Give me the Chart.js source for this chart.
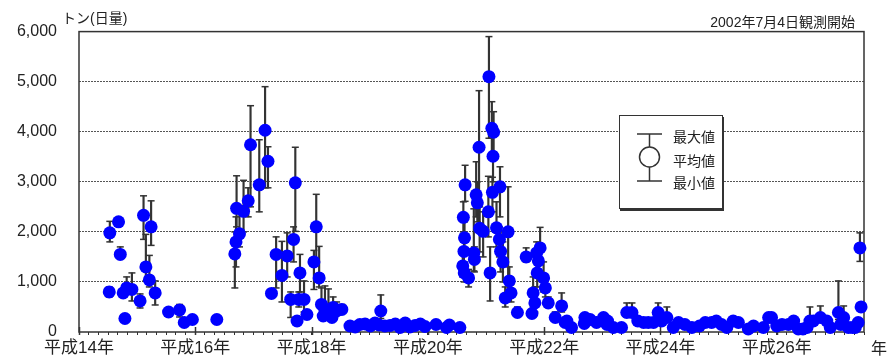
<!DOCTYPE html>
<html><head><meta charset="utf-8">
<script src="https://cdn.jsdelivr.net/npm/chart.js@4.4.0/dist/chart.umd.min.js"></script>
<style>
body{margin:0;background:#fff;}
#wrap{position:relative;width:895px;height:364px;overflow:hidden;font-family:"Liberation Sans","Noto Sans CJK JP",sans-serif;color:#222;}
canvas{position:absolute;left:0;top:0;}
.t{position:absolute;white-space:nowrap;line-height:1;}
#legend{position:absolute;left:619px;top:115px;width:102px;height:92px;border:1px solid #333;box-shadow:1px 2px 0 #333;background:#fff;}
#legend svg{position:absolute;left:0;top:0;}
</style></head><body>
<div id="wrap">
<canvas id="c" width="895" height="364"></canvas>
<div class="t" style="left:62px;top:11px;font-size:14px;">トン(日量)</div>
<div class="t" style="right:40px;top:15px;font-size:14px;">2002年7月4日観測開始</div>
<div class="t" style="left:871px;top:341px;font-size:16px;">年</div>
<div id="legend">
 <svg width="100" height="90" stroke="#333" stroke-width="1.5" fill="none">
  <line x1="17" y1="18" x2="42" y2="18"/>
  <line x1="29.5" y1="18" x2="29.5" y2="31"/>
  <circle cx="29.5" cy="41" r="10" fill="#fff"/>
  <line x1="29.5" y1="51" x2="29.5" y2="65"/>
  <line x1="17" y1="65" x2="42" y2="65"/>
 </svg>
 <div class="t" style="left:53px;top:14px;font-size:14px">最大値</div>
 <div class="t" style="left:53px;top:38px;font-size:14px">平均値</div>
 <div class="t" style="left:53px;top:60px;font-size:14px">最小値</div>
</div>
</div>
<script>
// ---- data (decimal year of observation, daily SO2 tons) ----
const dates = [
 2002.52,2002.53,2002.68,2002.71,2002.76,2002.79,2002.82,2002.91,2003.05,2003.11,2003.15,2003.21,2003.24,2003.31,2003.54,2003.73,2003.81,2003.95,2004.37,
 2004.68,2004.70,2004.71,2004.76,2004.83,2004.91,2004.95,2005.10,2005.20,2005.25,2005.31,2005.39,2005.49,2005.58,2005.64,2005.69,2005.72,2005.75,2005.78,2005.80,2005.87,2005.92,2006.04,2006.08,2006.13,2006.17,2006.20,2006.23,2006.29,2006.35,2006.37,2006.43,2006.52,
 2006.66,2006.75,2006.83,2006.92,2007.01,2007.09,2007.16,2007.19,2007.26,2007.35,2007.44,2007.52,2007.61,2007.69,2007.78,2007.87,2007.95,2008.14,2008.32,2008.37,2008.55,
 2008.60,2008.61,2008.62,2008.625,2008.63,2008.64,2008.70,2008.79,2008.80,2008.83,2008.85,2008.88,2008.89,2008.95,2009.04,2009.05,2009.07,2009.10,2009.11,2009.12,2009.13,2009.18,2009.23,2009.24,2009.25,2009.29,2009.33,2009.38,2009.40,2009.43,2009.54,2009.69,2009.79,2009.81,2009.84,2009.87,2009.88,2009.90,2009.93,2009.99,2010.02,2010.07,2010.19,2010.30,
 2010.36,2010.39,2010.47,2010.69,2010.70,2010.79,2010.90,2011.02,2011.08,2011.09,2011.19,2011.33,2011.42,2011.51,2011.61,2011.71,2011.79,2011.88,2011.96,2012.02,2012.11,2012.22,2012.31,2012.42,2012.54,2012.67,2012.77,2012.88,2012.96,2013.05,2013.14,2013.25,2013.34,2013.51,2013.60,2013.77,2013.86,2013.91,2014.00,2014.09,2014.20,2014.29,2014.37,2014.45,2014.52,2014.57,2014.63,2014.75,2014.86,2014.92,2015.06,2015.10,2015.15,2015.23,2015.30,2015.35,2015.40,2015.43,2015.45
];
const means = [
 800,1980,2200,1550,780,270,880,850,620,2330,1300,1040,2100,780,400,440,190,250,250,
 1560,1800,2470,1960,2410,2620,3740,2940,4030,3410,770,1550,1130,1520,650,1850,2980,220,650,1180,650,350,1400,2100,1080,550,320,450,390,290,490,420,450,
 120,100,150,160,120,180,140,420,120,130,160,90,180,100,130,160,110,150,90,140,90,
 1320,2290,1610,1180,1880,2940,1080,1580,1450,2740,2580,3690,2070,2010,2400,5100,1180,4070,2790,3510,3990,2080,1850,2900,1610,1400,680,2000,1020,780,390,1500,370,780,580,1580,1180,1420,1680,1080,880,580,290,520,
 190,220,90,170,290,250,190,290,150,220,90,90,390,390,220,190,190,190,390,220,290,90,190,150,90,120,190,190,220,150,90,220,190,60,120,90,290,290,120,150,150,220,60,60,90,220,220,290,220,90,390,150,290,90,90,90,190,1680,500
];
const mins = [
 700,1800,2150,1500,700,270,800,620,480,1850,1020,900,1730,540,400,300,190,250,250,
 880,1300,2100,1700,2000,2300,2500,2400,2880,2880,700,880,600,1100,290,1400,2010,220,500,800,400,300,850,1380,900,450,250,350,300,250,350,350,400,
 100,100,150,160,120,150,140,270,120,130,120,90,150,100,130,160,110,150,90,140,90,
 1100,2000,1300,1000,1600,2610,900,1220,1200,2300,2200,2080,1600,1500,1900,3870,620,3500,2400,3000,3600,1700,1500,2300,1200,1000,500,620,800,600,350,1400,300,500,400,1200,900,1100,1400,800,700,500,250,400,
 190,220,90,170,290,250,190,290,150,220,90,90,300,300,220,190,190,190,300,220,200,90,190,150,90,120,190,190,220,150,90,220,190,60,120,90,290,290,120,150,150,220,60,60,90,150,220,200,220,90,250,150,200,90,90,90,190,1410,450
];
const maxs = [
 900,2210,2250,1700,850,270,1100,1180,760,2720,1950,1530,2620,1020,400,550,190,250,250,
 2000,2300,3120,2400,3030,2880,4520,3840,4900,3700,850,1900,1810,1980,800,2100,3690,220,800,1550,1020,420,1630,2750,1710,880,600,920,860,500,700,600,550,
 140,100,150,160,120,250,140,740,120,130,200,90,250,100,130,160,110,150,90,140,90,
 1550,2600,1900,1400,2200,3330,1250,2460,1700,3400,3000,4820,2500,2400,3110,5900,1700,4600,3090,3900,4400,2600,2100,3300,2000,1800,900,2900,1300,950,500,1680,450,1100,900,1800,1500,1700,2090,1400,1100,700,400,780,
 190,220,90,170,290,250,190,290,150,220,90,90,580,580,220,190,190,190,580,220,500,90,190,150,90,120,190,190,220,150,90,220,190,60,120,90,290,290,120,150,150,220,60,60,90,500,220,520,220,90,1020,150,520,90,90,90,190,1980,550
];
const yTicks = [0,1000,2000,3000,4000,5000,6000];
const xLabelYears = [2002,2004,2006,2008,2010,2012,2014];
const xLabels = ['平成14年','平成16年','平成18年','平成20年','平成22年','平成24年','平成26年'];
const xStart = 2002, xEnd = 2015.5;

Chart.defaults.font.family = '"Liberation Sans","Noto Sans CJK JP",sans-serif';
Chart.defaults.color = '#222';

const meanPts = dates.map((d,i)=>({x:d,y:means[i]}));
const rangePts = dates.map((d,i)=>({x:d,y:[mins[i],maxs[i]]}));
const maxPts = dates.map((d,i)=>({x:d,y:maxs[i]}));
const minPts = dates.map((d,i)=>({x:d,y:mins[i]}));

const framePlugin = {
  id:'frame',
  beforeDatasetsDraw(chart){
    const {ctx, chartArea:a, scales:{x}} = chart;
    ctx.save();
    ctx.strokeStyle = '#333';
    ctx.lineWidth = 1.5;
    ctx.strokeRect(a.left, a.top, a.right-a.left, a.bottom-a.top);
    xLabelYears.forEach(yr=>{
      const px = Math.round(x.getPixelForValue(yr))+0.5;
      ctx.beginPath(); ctx.moveTo(px, a.bottom-5); ctx.lineTo(px, a.bottom+3); ctx.stroke();
    });
    ctx.restore();
  }
};

new Chart(document.getElementById('c'), {
  type:'scatter',
  data:{datasets:[
    {type:'scatter', data:meanPts, order:0, pointRadius:6.5, pointBackgroundColor:'#0000ff', pointBorderWidth:0, pointBorderColor:'#0000ff', clip:false},
    {type:'scatter', data:maxPts, order:1, pointStyle:'line', pointRadius:3.5, pointBorderWidth:1.5, pointBorderColor:'#333', clip:false},
    {type:'scatter', data:minPts, order:1, pointStyle:'line', pointRadius:3.5, pointBorderWidth:1.5, pointBorderColor:'#333', clip:false},
    {type:'bar', data:rangePts, order:2, backgroundColor:'#333', borderWidth:0, barThickness:1.5}
  ]},
  options:{
    responsive:false, animation:false, devicePixelRatio:1, events:[],
    layout:{padding:{top:30,right:31,left:0,bottom:0}},
    plugins:{legend:{display:false}, tooltip:{enabled:false}},
    scales:{
      x:{type:'linear', min:xStart, max:xEnd, offset:false,
        afterBuildTicks:s=>{const t=[]; for(let i=0;i<=81;i++) t.push({value:xStart+i/6}); s.ticks=t;},
        ticks:{autoSkip:false, maxRotation:0, minRotation:0, padding:3, font:{size:17}, color:'#222',
          callback:v=>{const k=xLabelYears.findIndex(y=>Math.abs(y-v)<1e-6); return k>=0?xLabels[k]:'';}},
        grid:{drawOnChartArea:false, drawTicks:true, tickLength:3, tickColor:'#333', tickWidth:1, offset:false},
        border:{display:false},
        afterFit:s=>{s.height=32;}
      },
      y:{type:'linear', min:0, max:6000,
        afterBuildTicks:s=>{s.ticks=yTicks.map(v=>({value:v}));},
        ticks:{padding:22, font:{size:16}, color:'#222', callback:v=>v.toLocaleString('en-US')},
        grid:{drawTicks:false, lineWidth:1, color:c=>(c.tick&&(c.tick.value===0||c.tick.value===6000))?'rgba(0,0,0,0)':'#555'},
        border:{display:false, dash:[2,1]},
        afterFit:s=>{s.width=79;}
      }
    }
  },
  plugins:[framePlugin]
});
</script>
</body></html>
